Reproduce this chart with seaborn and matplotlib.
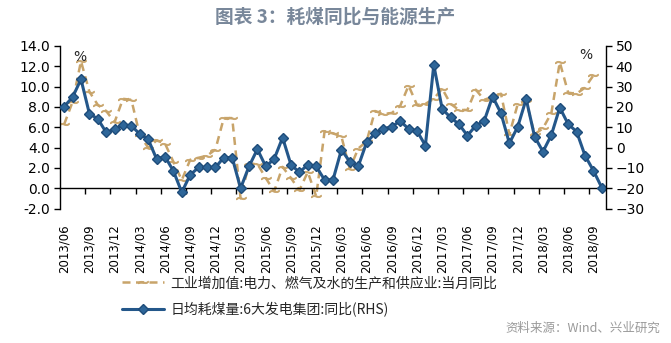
import numpy as np
import pandas as pd
import matplotlib
matplotlib.use("Agg")
import matplotlib.pyplot as plt
from matplotlib.lines import Line2D
import seaborn as sns

# ---------------- data ----------------
months = pd.period_range("2013-06", "2018-10", freq="M").strftime("%Y/%m").tolist()

tick_labels = ["2013/06", "2013/09", "2013/12", "2014/03", "2014/06", "2014/09",
               "2014/12", "2015/03", "2015/06", "2015/09", "2015/12", "2016/03",
               "2016/06", "2016/09", "2016/12", "2017/03", "2017/06", "2017/09",
               "2017/12", "2018/03", "2018/06", "2018/09"]

# 工业增加值:电力、燃气及水的生产和供应业:当月同比 (left axis, %)
industry_yoy = [6.3, 8.5, 12.5, 9.5, 8.2, 7.6, 6.5, 8.8, 8.7, 5.2,
                4.0, 4.7, 4.4, 2.6, 0.8, 2.8, 3.0, 3.2, 3.8, 6.9,
                6.9, -1.0, 2.4, 2.4, 1.0, -0.3, 2.1, 1.0, -0.2, 1.6,
                -0.8, 5.6, 5.4, 5.1, 1.9, 3.9, 4.6, 7.6, 7.3, 7.4,
                8.1, 10.1, 8.2, 8.3, 8.8, 9.8, 8.3, 7.7, 7.7, 9.7,
                8.7, 9.0, 9.3, 5.3, 8.3, 8.6, 5.3, 5.9, 7.4, 12.4,
                9.4, 9.3, 9.9, 11.1, np.nan]

# 日均耗煤量:6大发电集团:同比 (right axis, %)
coal_yoy = [20.2, 24.8, 33.6, 16.7, 14.1, 7.5, 9.0, 11.1, 10.8, 6.6,
            4.1, -5.6, -4.4, -11.5, -22.0, -13.4, -9.8, -9.8, -9.8, -4.9,
            -4.9, -20.0, -9.3, -0.8, -9.3, -5.6, 4.9, -8.5, -12.1, -8.5,
            -9.3, -15.9, -15.9, -1.1, -6.9, -9.3, 2.5, 7.0, 9.2, 10.3,
            13.1, 9.2, 8.2, 1.0, 40.7, 19.0, 14.8, 11.5, 5.9, 10.8,
            13.1, 25.1, 16.9, 2.1, 10.3, 23.9, 5.4, -2.0, 6.2, 19.7,
            11.5, 7.9, -3.9, -11.3, -19.7]

label_industry = "工业增加值:电力、燃气及水的生产和供应业:当月同比"
label_coal = "日均耗煤量:6大发电集团:同比(RHS)"

df = pd.DataFrame({"idx": np.arange(len(months)), "month": months,
                   "industry": industry_yoy, "coal": coal_yoy})

# ---------------- style ----------------
sns.set_theme(style="ticks")
plt.rcParams["font.family"] = ["DejaVu Sans", "Noto Sans CJK SC"]
CJK = ["Noto Sans CJK SC", "DejaVu Sans"]

TAN = "#C8A46A"
BLUE = "#24578A"
BLUE_FACE = "#2E6699"

fig = plt.figure(figsize=(6.71, 3.43), dpi=100)
ax = fig.add_axes([0.0894, 0.392, 0.8137, 0.474])
ax2 = ax.twinx()

tan_marker = "$\\sim$"
sns.lineplot(data=df, x="idx", y="industry", ax=ax, color=TAN, lw=1.8,
             linestyle=(0, (3.2, 2.2)), marker=tan_marker, markersize=7,
             markeredgewidth=0.6, markeredgecolor=TAN, legend=False)
sns.lineplot(data=df, x="idx", y="coal", ax=ax2, color=BLUE, lw=2.2,
             marker="D", markersize=5.5, markerfacecolor=BLUE_FACE,
             markeredgecolor="#1E4C7A", markeredgewidth=1.0, legend=False)

# ---------------- axes ----------------
n = len(months)
ax.set_xlim(-0.5, n - 0.5)
ax.set_ylim(-2, 14)
ax2.set_ylim(-30, 50)

ax.set_yticks(np.arange(-2, 15, 2))
ax.set_yticklabels([f"{v:.1f}" for v in np.arange(-2, 15, 2)])
ax2.set_yticks(np.arange(-30, 51, 10))

ax.set_xticks(np.arange(0, n, 3))
ax.set_xticklabels(tick_labels)
ax.set_xticks(np.arange(2.5, n - 0.5, 3), minor=True)

ax.set_xlabel("")
ax.set_ylabel("")
ax2.set_ylabel("")

for s in ["top", "right"]:
    ax.spines[s].set_visible(False)
ax.spines["bottom"].set_position(("data", 0))
for s in ["top", "bottom", "left"]:
    ax2.spines[s].set_visible(False)
for sp in [ax.spines["left"], ax.spines["bottom"], ax2.spines["right"]]:
    sp.set_color("black")
    sp.set_linewidth(1.0)

ax.tick_params(axis="x", which="major", length=0, pad=26, labelsize=8.5,
               colors="black", labelrotation=90)
ax.tick_params(axis="x", which="minor", length=4, width=1, direction="out", color="black")
ax.tick_params(axis="y", length=4, width=1, direction="out", labelsize=10, colors="black", pad=3)
ax2.tick_params(axis="y", length=4, width=1, direction="out", labelsize=10, colors="black", pad=3)

# ---------------- text ----------------
fig.text(80 / 671, 1 - 57 / 343, "%", ha="center", va="center", fontsize=10)
fig.text(586 / 671, 1 - 55 / 343, "%", ha="center", va="center", fontsize=10)

fig.text(0.5, 1 - 17 / 343, "图表 3：耗煤同比与能源生产", ha="center", va="center",
         fontsize=13.5, color="#78879A", family=CJK, fontweight="bold")

fig.text(660 / 671, 1 - 328 / 343, "资料来源：Wind、兴业研究", ha="right", va="center",
         fontsize=9, color="#9A9A9A", family=CJK)

handles = [
    Line2D([], [], color=TAN, lw=1.8, linestyle=(0, (3.2, 2.2)), marker=tan_marker,
           markersize=7, markeredgewidth=0.6, markeredgecolor=TAN, markevery=[1]),
    Line2D([], [], color=BLUE, lw=2.2, marker="D", markersize=5.5,
           markerfacecolor=BLUE_FACE, markeredgecolor="#1E4C7A", markevery=[1]),
]
leg = fig.legend(handles, [label_industry, label_coal], loc="upper left",
                 bbox_to_anchor=(122 / 671, 1 - 276 / 343), frameon=False,
                 handlelength=3.0, handletextpad=0.5, labelspacing=0.85,
                 prop={"family": CJK, "size": 10}, borderaxespad=0, borderpad=0)

fig.savefig("out.png", dpi=100)
